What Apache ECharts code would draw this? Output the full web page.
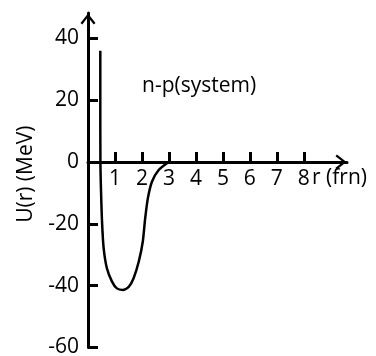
<!DOCTYPE html>
<html>
<head>
<meta charset="utf-8">
<script src="https://cdn.jsdelivr.net/npm/echarts@6/dist/echarts.min.js"></script>
<style>
html,body{margin:0;padding:0;background:#fff;}
#c{width:376px;height:356px;}
</style>
</head>
<body>
<div id="c"></div>
<script>
// Data
var rValues = [0.456, 0.456, 0.46, 0.48, 0.52, 0.58, 0.70, 0.89, 1.07, 1.29, 1.51, 1.69, 1.88, 2.03, 2.12, 2.22, 2.37, 2.62, 2.99];
var uValues = [36, 20, 0, -8.5, -19.3, -27.9, -34.4, -38.7, -40.9, -41.4, -40.4, -37.6, -32.3, -25.8, -18.2, -11.7, -6.4, -2.6, 0];
var xTicks = [1, 2, 3, 4, 5, 6, 7, 8];
var yTicks = [-60, -40, -20, 0, 20, 40];
var xName = 'r (frn)';
var yName = 'U(r) (MeV)';
var annotation = 'n-p(system)';

var chevron = 'path://M0,96 L75,0 L150,96 L132,110 L75,36 L18,110 Z';
var font = '"Open Sans", "Noto Sans", sans-serif';
var FS = 21;

var gridTop = 13, gridBottom = 8.6, H = 356;
var yMin = -60, yMax = 48.2;
// offset of x axis line from grid bottom so that it sits at U = 0
var zeroOffset = -(H - gridTop - gridBottom) * (0 - yMin) / (yMax - yMin);

var chart = echarts.init(document.getElementById('c'), null, {renderer: 'canvas'});
chart.setOption({
  backgroundColor: '#fff',
  animation: false,
  title: {
    text: annotation,
    left: 137,
    top: 71,
    textStyle: {color: '#000', fontSize: FS, fontWeight: 'normal', fontFamily: font}
  },
  grid: {left: 88, right: 29, top: gridTop, bottom: gridBottom, containLabel: false, outerBoundsMode: 'none'},
  xAxis: {
    type: 'value',
    min: 0,
    max: 9.6,
    position: 'bottom',
    offset: zeroOffset,
    name: xName,
    nameLocation: 'end',
    nameGap: -35,
    nameMoveOverlap: false,
    nameTextStyle: {color: '#000', fontSize: FS, fontFamily: font, verticalAlign: 'top', align: 'left', padding: [6, 0, 0, 0]},
    splitLine: {show: false},
    axisLine: {onZero: false, lineStyle: {color: '#000', width: 3}, symbol: ['none', chevron], symbolSize: [15, 12], symbolOffset: [0, -6]},
    axisTick: {show: true, inside: true, length: 10, lineStyle: {color: '#000', width: 3}, customValues: xTicks},
    axisLabel: {color: '#000', fontSize: FS, fontFamily: font, margin: 7, customValues: xTicks}
  },
  yAxis: {
    type: 'value',
    min: yMin,
    max: yMax,
    name: yName,
    nameLocation: 'middle',
    nameGap: 39,
    nameRotate: 90,
    nameTextStyle: {color: '#000', fontSize: FS, fontFamily: font, padding: [0, 0, 12, 12]},
    splitLine: {show: false},
    axisLine: {onZero: false, lineStyle: {color: '#000', width: 3}, symbol: ['none', chevron], symbolSize: [15, 12], symbolOffset: [0, -6]},
    axisTick: {show: true, inside: true, length: 10, lineStyle: {color: '#000', width: 3}, customValues: yTicks},
    axisLabel: {color: '#000', fontSize: FS, fontFamily: font, margin: 9, customValues: yTicks}
  },
  series: [{
    type: 'line',
    data: rValues.map(function (r, i) { return [r, uValues[i]]; }),
    showSymbol: false,
    smooth: 0.25,
    lineStyle: {color: '#000', width: 2.5},
    z: 3
  }]
});
</script>
</body>
</html>
